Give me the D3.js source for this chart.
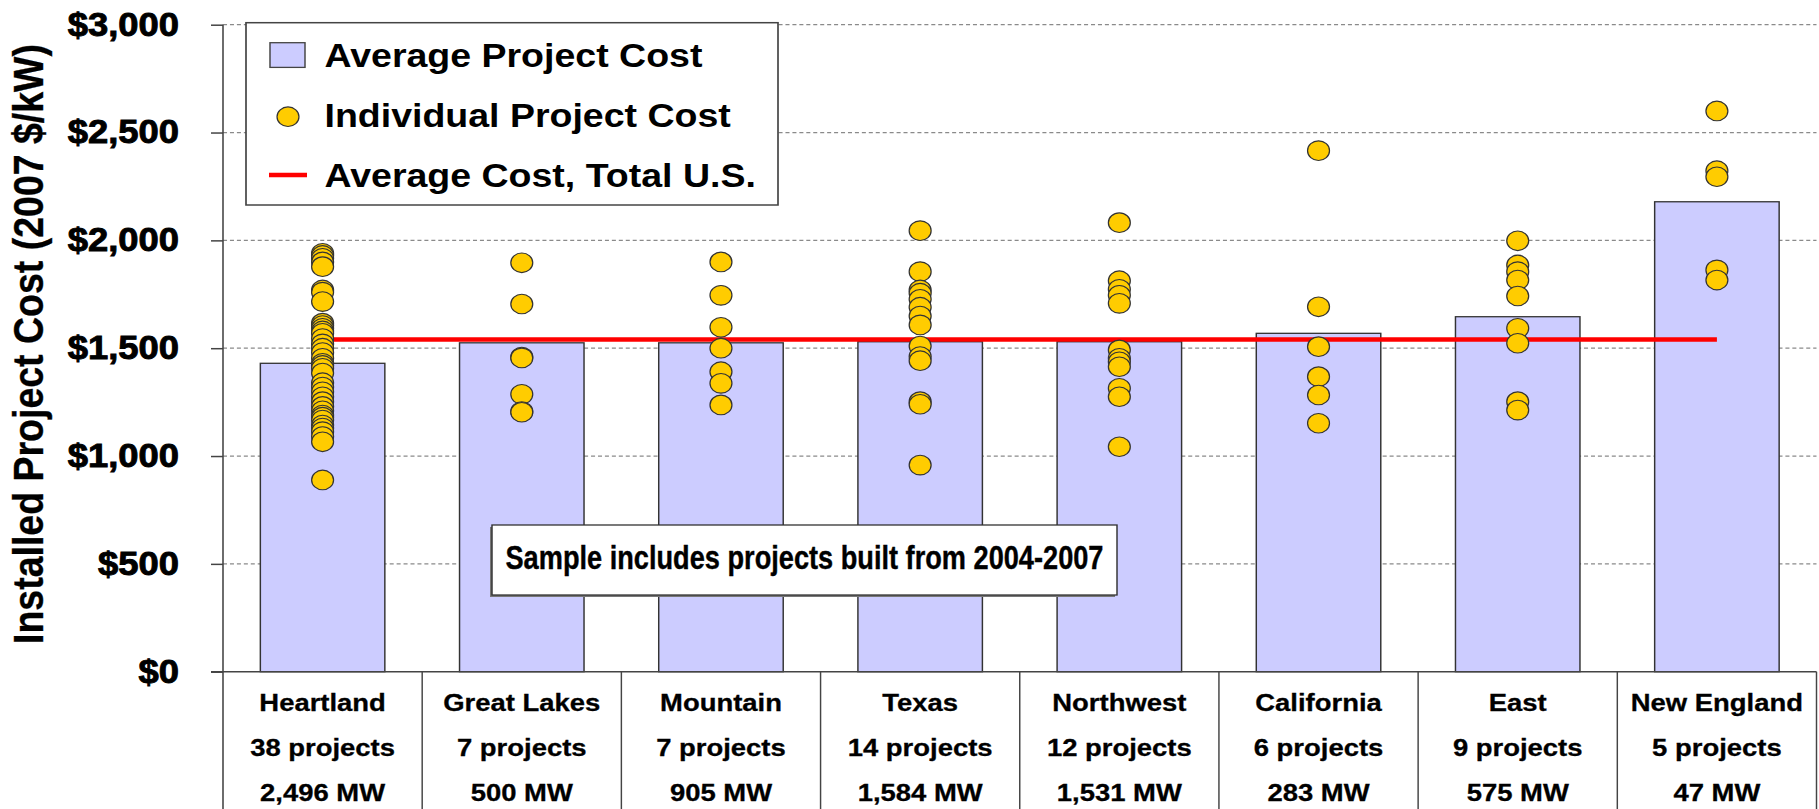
<!DOCTYPE html>
<html>
<head>
<meta charset="utf-8">
<script src="https://cdn.jsdelivr.net/npm/d3@7"></script>
<style>
  html, body { margin: 0; padding: 0; background: #ffffff; }
  svg { display: block; font-family: "Liberation Sans", Arial, Helvetica, sans-serif; font-weight: bold; }
</style>
</head>
<body>
<svg id="chart" width="1819" height="809"></svg>
<script>
// ---------------- data ----------------
const categories = ["Heartland", "Great Lakes", "Mountain", "Texas", "Northwest", "California", "East", "New England"];
const projectCounts = ["38 projects", "7 projects", "7 projects", "14 projects", "12 projects", "6 projects", "9 projects", "5 projects"];
const capacities = ["2,496 MW", "500 MW", "905 MW", "1,584 MW", "1,531 MW", "283 MW", "575 MW", "47 MW"];
const averageCost = [1430, 1525, 1525, 1530, 1530, 1569, 1646, 2179];
const usAverageCost = 1540;

const heartlandCosts = [1940, 1930, 1917, 1900, 1878, 1770, 1760, 1716, 1616, 1605, 1592, 1580, 1569, 1545,
  1520, 1500, 1480, 1453, 1430, 1420, 1407, 1385, 1340, 1320, 1298, 1275, 1252, 1230, 1210, 1190,
  1180, 1167, 1144, 1130, 1113, 1090, 1066, 889];
const greatLakesCosts = [1896, 1705, 1459, 1455, 1286, 1206, 1203];
const mountainCosts = [1900, 1745, 1597, 1500, 1391, 1337, 1237];
const texasCosts = [2045, 1855, 1770, 1755, 1727, 1690, 1649, 1608, 1510, 1461, 1442, 1252, 1240, 958];
const northwestCosts = [2082, 1813, 1773, 1745, 1708, 1492, 1453, 1437, 1414, 1314, 1275, 1043];
const californiaCosts = [2416, 1692, 1507, 1368, 1283, 1152];
const eastCosts = [1998, 1886, 1855, 1816, 1742, 1592, 1523, 1252, 1213];
const newEnglandCosts = [2600, 2323, 2295, 1863, 1816];

const yTickValues = [0, 500, 1000, 1500, 2000, 2500, 3000];

const legendLabels = ["Average Project Cost", "Individual Project Cost", "Average Cost, Total U.S."];
const noteText = "Sample includes projects built from 2004-2007";
const yAxisTitle = "Installed Project Cost (2007 $/kW)";

// ---------------- layout ----------------
const W = 1819, H = 809;
const sx = 1.12;                 // horizontal stretch of the original picture
const X = v => v / sx;           // page px -> inner units

const svg = d3.select("#chart");
const g = svg.append("g").attr("transform", `scale(${sx},1)`);

const plotLeft = 223, plotRight = 1816.5, plotTop = 24.7, plotBottom = 671.7;

const x = d3.scaleBand()
  .domain(categories)
  .range([X(plotLeft), X(plotRight)])
  .paddingInner(0.375)
  .paddingOuter(0.1875);

const y = d3.scaleLinear().domain([0, 3000]).range([plotBottom, plotTop]);

const fmt = d3.format("$,");
const center = c => x(c) + x.bandwidth() / 2;

// gridlines
g.append("g").selectAll("line")
  .data(yTickValues.filter(v => v > 0))
  .join("line")
  .attr("x1", X(plotLeft)).attr("x2", X(plotRight))
  .attr("y1", d => y(d)).attr("y2", d => y(d))
  .attr("stroke", "#8a8a8a").attr("stroke-width", 1.3)
  .attr("stroke-dasharray", "3.6,2.6");

// bars
g.append("g").selectAll("rect")
  .data(categories)
  .join("rect")
  .attr("x", d => x(d))
  .attr("width", x.bandwidth())
  .attr("y", (d, i) => y(averageCost[i]))
  .attr("height", (d, i) => y(0) - y(averageCost[i]))
  .attr("fill", "#ccccff")
  .attr("stroke", "#333")
  .attr("stroke-width", 1.3);

// US average line
g.append("line")
  .attr("x1", center(categories[0]))
  .attr("x2", center(categories[categories.length - 1]))
  .attr("y1", y(usAverageCost)).attr("y2", y(usAverageCost))
  .attr("stroke", "#ff0000").attr("stroke-width", 4.5);

// individual projects
const projectSets = [heartlandCosts, greatLakesCosts, mountainCosts, texasCosts,
  northwestCosts, californiaCosts, eastCosts, newEnglandCosts];
const points = [];
projectSets.forEach((arr, i) => arr.forEach(v => points.push({ cat: categories[i], v })));

g.append("g").selectAll("circle")
  .data(points)
  .join("circle")
  .attr("cx", d => center(d.cat))
  .attr("cy", d => y(d.v))
  .attr("r", 9.8)
  .attr("fill", "#ffcc00")
  .attr("stroke", "#333")
  .attr("stroke-width", 1.1);

// note box
const nb = { x1: 492, x2: 1117, y1: 525, y2: 595 };
g.append("rect")
  .attr("x", X(nb.x1 - 2)).attr("y", nb.y1 + 2)
  .attr("width", X(nb.x2 - nb.x1)).attr("height", nb.y2 - nb.y1)
  .attr("fill", "#777");
g.append("rect")
  .attr("x", X(nb.x1)).attr("y", nb.y1)
  .attr("width", X(nb.x2 - nb.x1)).attr("height", nb.y2 - nb.y1)
  .attr("fill", "#fff").attr("stroke", "#333").attr("stroke-width", 1.3);
g.append("text")
  .attr("x", X((nb.x1 + nb.x2) / 2)).attr("y", 569.5)
  .attr("text-anchor", "middle")
  .attr("font-family", "'Liberation Sans Narrow', 'Arial Narrow', 'Liberation Sans', Arial, sans-serif")
  .attr("font-size", 32.5)
  .attr("stroke", "#000").attr("stroke-width", 0.4)
  .attr("textLength", X(598))
  .attr("lengthAdjust", "spacingAndGlyphs")
  .text(noteText);

// y axis ticks and labels
const yAxis = d3.axisLeft(y)
  .tickValues(yTickValues)
  .tickFormat(fmt)
  .tickSize(X(12))
  .tickPadding(X(223 - 179) - X(12));
const ya = g.append("g").attr("transform", `translate(${X(plotLeft)},0)`).call(yAxis);
ya.select(".domain").remove();
ya.selectAll(".tick line").attr("stroke", "#444").attr("stroke-width", 1.5);
ya.selectAll(".tick text")
  .attr("font-size", 32.5).attr("font-weight", "bold")
  .attr("font-family", "'Liberation Sans', Arial, sans-serif")
  .attr("fill", "#000")
  .attr("stroke", "#000").attr("stroke-width", 0.9);

// axis lines
g.append("line")
  .attr("x1", X(plotLeft)).attr("x2", X(plotLeft))
  .attr("y1", plotTop).attr("y2", H)
  .attr("stroke", "#444").attr("stroke-width", 1.4);
g.append("line")
  .attr("x1", X(211)).attr("x2", X(plotRight))
  .attr("y1", plotBottom).attr("y2", plotBottom)
  .attr("stroke", "#444").attr("stroke-width", 1.5);

// category dividers
const step = x.step();
g.append("g").selectAll("line")
  .data(d3.range(1, categories.length + 1))
  .join("line")
  .attr("x1", i => X(plotLeft) + i * step).attr("x2", i => X(plotLeft) + i * step)
  .attr("y1", plotBottom).attr("y2", H)
  .attr("stroke", "#444").attr("stroke-width", 1.3);

// category labels
const rows = [categories, projectCounts, capacities];
const rowBase = [711.5, 756, 801.5];
rows.forEach((arr, r) => {
  g.append("g").selectAll("text")
    .data(arr)
    .join("text")
    .attr("x", (d, i) => center(categories[i]))
    .attr("y", rowBase[r])
    .attr("text-anchor", "middle")
    .attr("font-size", 24.5)
    .attr("stroke", "#000").attr("stroke-width", 0.3)
    .text(d => d);
});

// y axis title
g.append("text")
  .attr("transform", `translate(${X(43)},344) rotate(-90)`)
  .attr("text-anchor", "middle")
  .attr("font-size", 37.5)
  .attr("stroke", "#000").attr("stroke-width", 0.3)
  .text(yAxisTitle);

// legend
const lg = g.append("g");
lg.append("rect")
  .attr("x", X(246)).attr("y", 22.7)
  .attr("width", X(778 - 246)).attr("height", 205 - 22.7)
  .attr("fill", "#fff").attr("stroke", "#444").attr("stroke-width", 1.5);
lg.append("rect")
  .attr("x", X(270)).attr("y", 42.7)
  .attr("width", X(35)).attr("height", 24.7)
  .attr("fill", "#ccccff").attr("stroke", "#444").attr("stroke-width", 1.3);
lg.append("circle")
  .attr("cx", X(288)).attr("cy", 116.7).attr("r", 9.8)
  .attr("fill", "#ffcc00").attr("stroke", "#333").attr("stroke-width", 1.1);
lg.append("line")
  .attr("x1", X(269)).attr("x2", X(307))
  .attr("y1", 175).attr("y2", 175)
  .attr("stroke", "#ff0000").attr("stroke-width", 4.5);
const legendBase = [66.7, 126.7, 186.7];
lg.selectAll("text.lt")
  .data(legendLabels)
  .join("text")
  .attr("class", "lt")
  .attr("x", X(324.5))
  .attr("y", (d, i) => legendBase[i])
  .attr("font-size", 33.5)
  .text(d => d);
</script>
</body>
</html>
